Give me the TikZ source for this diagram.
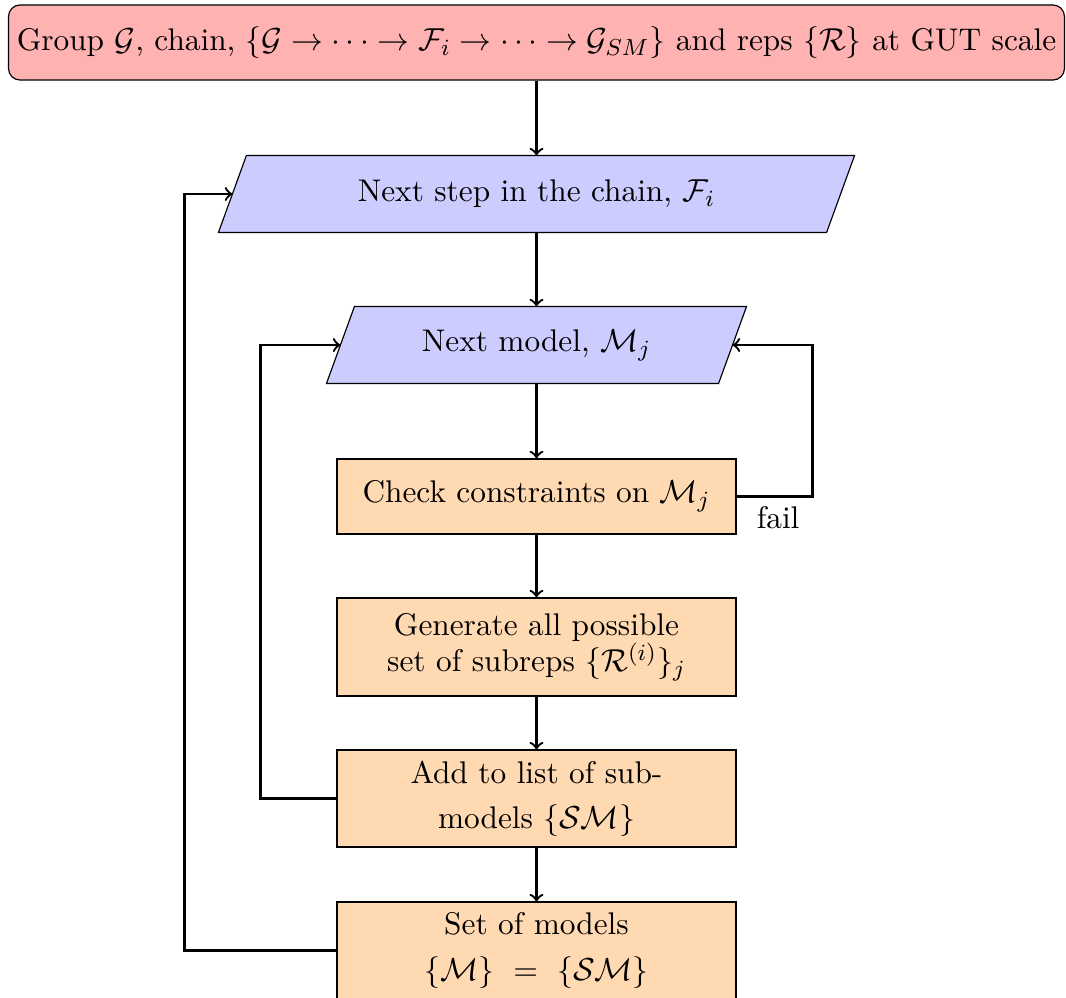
\documentclass[tikz,border=0pt]{standalone}
\usetikzlibrary{backgrounds}
\begin{document}
\begin{tikzpicture}[x=0.3448pt,y=-0.3448pt,
  every node/.style={inner sep=0pt, align=center, font=\fontsize{10.8pt}{12.6pt}\selectfont},
  gutbox/.style={draw, fill=red!30, rounded corners=4pt,
    minimum width=364.1pt, minimum height=25.9pt},
  parabox/.style={minimum height=26.2pt},
  procbox/.style={draw, fill=orange!30, minimum width=137.6pt},
  arr/.style={->, thick},
  slantfill/.style={draw, fill=blue!20}]
\useasboundingbox (0,0) rectangle (1066,998);

\node[gutbox] (top) at (536.5,42.5)
  {Group $\mathcal{G}$, chain, $\{\mathcal{G}\to\cdots\to\mathcal{F}_i\to\cdots\to\mathcal{G}_{SM}\}$ and reps $\{\mathcal{R}\}$ at GUT scale};
\node[parabox, minimum width=209.3pt] (step) at (536.5,194) {Next step in the chain, $\mathcal{F}_i$};
\node[parabox, minimum width=134.8pt] (model) at (536.5,345) {Next model, $\mathcal{M}_j$};
\node[procbox, minimum height=25.9pt] (check) at (536.5,496.5) {Check constraints on $\mathcal{M}_j$};
\node[procbox, minimum height=33.8pt] (gen) at (536.5,647) {Generate all possible\\set of subreps $\{\mathcal{R}^{(i)}\}_j$};
\node[procbox, minimum height=33.4pt] (add) at (536.5,798.5) {Add to list of sub-\\[3pt]models $\{\mathcal{SM}\}$};
\node[procbox, minimum height=33.4pt] (set) at (536.5,950.5) {Set of models\\[3pt]$\{\mathcal{M}\}\ =\ \{\mathcal{SM}\}$};

% slanted input/output shapes behind their labels
\begin{scope}[on background layer]
  \foreach \n in {step,model}
    \path[slantfill] ([xshift=-4.83pt]\n.south west) -- ([xshift=-4.83pt]\n.south east)
      -- ([xshift=4.83pt]\n.north east) -- ([xshift=4.83pt]\n.north west) -- cycle;
\end{scope}

\draw[arr] (top.south) -- (step.north);
\draw[arr] (step.south) -- (model.north);
\draw[arr] (model.south) -- (check.north);
\draw[arr] (check.east) -- node[below=3pt, xshift=1.2pt] {fail} ++(76,0) |- (model.east);
\draw[arr] (check.south) -- (gen.north);
\draw[arr] (gen.south) -- (add.north);
\draw[arr] (add.south) -- (set.north);

\draw[arr] (add.west) -- ++(-76,0) |- (model.west);
\draw[arr] (set.west) -- ++(-152,0) |- (step.west);
\end{tikzpicture}
\end{document}
